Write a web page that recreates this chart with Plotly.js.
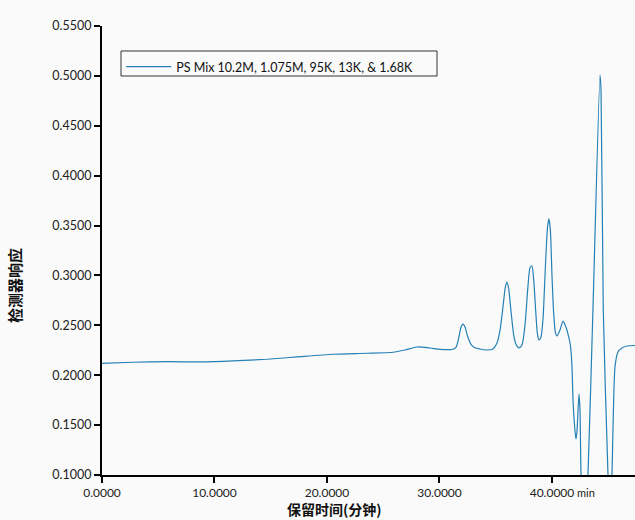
<!DOCTYPE html>
<html>
<head>
<meta charset="utf-8">
<script src="https://cdn.plot.ly/plotly-3.0.1.min.js"></script>
<style>html,body{margin:0;padding:0;background:#fafafa;}#chart{width:635px;height:520px;}</style>
</head>
<body>
<div id="chart"></div>
<script>
// Retention time (min)
const retentionTime = [
  0, 2.76, 5.78, 8.71, 11.64, 14.67, 17.6, 20.53, 23.56, 25.87, 26.93, 28.0, 29.16, 30.04,
  31.11, 31.47, 31.7, 31.9, 32.09, 32.28, 32.5, 32.8, 33.16, 33.6, 34.22, 34.76, 35.11, 35.38, 35.64,
  35.85, 36.0, 36.15, 36.35, 36.6, 36.8, 37.07, 37.33, 37.6, 37.85, 38.05, 38.22, 38.38, 38.55, 38.7, 38.84, 39.02,
  39.2, 39.4, 39.6, 39.73, 39.86, 40.0, 40.15, 40.3, 40.44, 40.71, 40.98, 41.24, 41.5, 41.65, 41.78, 41.87,
  42.04, 42.13, 42.22, 42.4, 42.49, 42.58, 42.84, 43.2, 43.64, 44.27, 44.36, 44.56, 44.98,
  45.16, 45.33, 45.6, 45.87, 46.22, 46.67, 47.38
];
// Detector response
const detectorResponse = [
  0.2119, 0.2130, 0.2136, 0.2133, 0.2143, 0.2160, 0.2186, 0.2210, 0.2220, 0.2230, 0.2253, 0.2283, 0.2273, 0.2260,
  0.2258, 0.2280, 0.2370, 0.2475, 0.2513, 0.2480, 0.2390, 0.2310, 0.2275, 0.2263, 0.2253, 0.2263, 0.2323, 0.2450, 0.2680,
  0.2880, 0.2934, 0.2870, 0.2650, 0.2400, 0.2310, 0.2273, 0.2300, 0.2500, 0.2870, 0.3080, 0.3095, 0.2950, 0.2650, 0.2420, 0.2353, 0.2380,
  0.2560, 0.3050, 0.3480, 0.3566, 0.3450, 0.3000, 0.2620, 0.2430, 0.2393, 0.2453, 0.2543, 0.2483, 0.2380, 0.2290, 0.2082, 0.1752,
  0.1451, 0.1361, 0.1431, 0.1812, 0.1651, 0.1000, 0.0148, 0.1000, 0.2654, 0.5009, 0.4859, 0.2654, 0.1000,
  0.0549, 0.1000, 0.2082, 0.2233, 0.2273, 0.2293, 0.2298
];
const seriesName = 'PS Mix 10.2M, 1.075M, 95K, 13K, &amp; 1.68K';
const xTickVals = [0, 10, 20, 30, 40];
const yTickVals = [0.10, 0.15, 0.20, 0.25, 0.30, 0.35, 0.40, 0.45, 0.50, 0.55];
const xTitle = '保留时间(分钟)';
const yTitle = '检测器响应';
const xUnit = 'min';

const font = 'Lato, "Noto Sans CJK SC", sans-serif';

const trace = {
  x: retentionTime,
  y: detectorResponse,
  type: 'scatter',
  mode: 'lines',
  name: seriesName,
  line: {color: '#2580b5', width: 1.2, shape: 'spline', smoothing: 0.6},
  showlegend: true
};

const layout = {
  width: 635, height: 520,
  margin: {l: 102, r: 0, t: 26, b: 45},
  paper_bgcolor: '#fafafa',
  plot_bgcolor: '#fafafa',
  font: {family: font, size: 12, color: '#222'},
  showlegend: true,
  legend: {
    x: 0.036, y: 0.942, xanchor: 'left', yanchor: 'top',
    bgcolor: 'rgba(0,0,0,0)', borderwidth: 0,
    font: {family: font, size: 12.5, color: '#111'},
    itemwidth: 45
  },
  shapes: [{
    type: 'rect', xref: 'paper', yref: 'paper',
    x0: 19/533, x1: 335/533, y0: (475-76)/449, y1: (475-51)/449,
    line: {color: '#333', width: 1}, fillcolor: 'rgba(0,0,0,0)'
  }],
  xaxis: {
    range: [0, 47.38],
    tickvals: xTickVals, tickformat: '.4f',
    ticks: 'outside', ticklen: 6, tickwidth: 2, tickcolor: '#000',
    showline: true, linecolor: '#000', linewidth: 2,
    showgrid: false, zeroline: false,
    tickfont: {family: font, size: 12, color: '#222'}
  },
  yaxis: {
    range: [0.1, 0.55],
    tickvals: yTickVals, tickformat: '.4f',
    ticks: 'outside', ticklen: 6, tickwidth: 2, tickcolor: '#000',
    showline: true, linecolor: '#000', linewidth: 2,
    showgrid: false, zeroline: false,
    tickfont: {family: font, size: 12.5, color: '#222'}
  },
  annotations: [
    {text: xTitle, xref: 'paper', yref: 'paper', x: (334-102)/533, y: -(509-475)/449,
     xanchor: 'center', yanchor: 'middle', showarrow: false,
     font: {family: '"Noto Sans CJK SC", sans-serif', size: 14, color: '#111', weight: 'bold'}},
    {text: yTitle, xref: 'paper', yref: 'paper', x: -(102-15)/533, y: (475-286)/449,
     xanchor: 'center', yanchor: 'middle', showarrow: false, textangle: -90,
     font: {family: '"Noto Sans CJK SC", sans-serif', size: 15, color: '#111', weight: 'bold'}},
    {text: xUnit, xref: 'paper', yref: 'paper', x: (586-102)/533, y: -(492-475)/449,
     xanchor: 'center', yanchor: 'middle', showarrow: false,
     font: {family: font, size: 11, color: '#222'}}
  ]
};

Plotly.newPlot('chart', [trace], layout, {displayModeBar: false, staticPlot: true});
</script>
</body>
</html>
